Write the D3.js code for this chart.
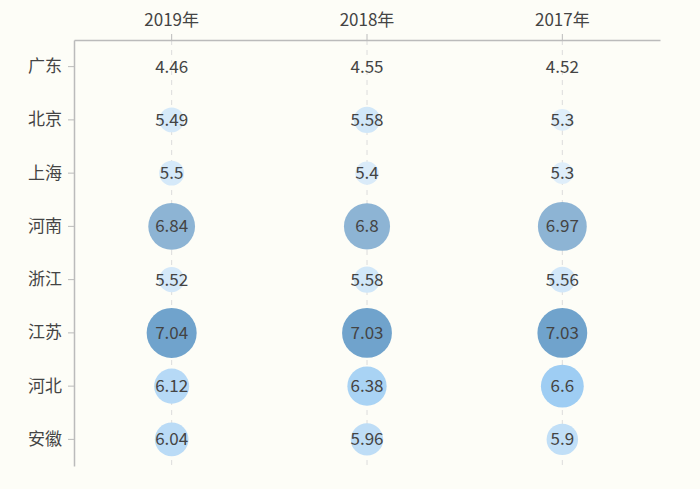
<!DOCTYPE html>
<html>
<head>
<meta charset="utf-8">
<script src="https://cdn.jsdelivr.net/npm/d3@7"></script>
<style>
  body { margin: 0; background: #fdfdf7; }
  text { font-family: "Noto Sans CJK SC", "Noto Sans", sans-serif; }
</style>
</head>
<body>
<div id="chart"></div>
<script>
const width = 700;
const height = 489;
const margin = { top: 40, left: 74, right: 40, bottom: 23 };

// data
const years = ["2019年", "2018年", "2017年"];
const provinces = ["广东", "北京", "上海", "河南", "浙江", "江苏", "河北", "安徽"];
const v2019 = [4.46, 5.49, 5.5, 6.84, 5.52, 7.04, 6.12, 6.04];
const v2018 = [4.55, 5.58, 5.4, 6.8, 5.58, 7.03, 6.38, 5.96];
const v2017 = [4.52, 5.3, 5.3, 6.97, 5.56, 7.03, 6.6, 5.9];

const series = [v2019, v2018, v2017];
const cells = [];
series.forEach((vals, i) => {
    vals.forEach((v, j) => cells.push({ year: years[i], prov: provinces[j], value: v }));
});

const svg = d3.select("#chart").append("svg").attr("width", width).attr("height", height);
svg.append("rect").attr("width", width).attr("height", height).attr("fill", "#fdfdf7");

const xScale = d3.scaleBand().domain(years).range([margin.left, width - margin.right]);
const yScale = d3.scaleBand().domain(provinces).range([margin.top, height - margin.bottom]);

const extent = d3.extent(cells, d => d.value);
const rScale = d3.scaleLinear().domain(extent).range([4, 25]);

// near-background up to light blue, then grey-blue bins
const lightColor = d3.scaleLinear().domain([4.5, 5.3, 6.6]).range(["#fdfdf7", "#dfeefa", "#9ecdf3"]).clamp(true);
const color = v => v >= 7 ? "#70a3cc" : v >= 6.7 ? "#8db4d4" : lightColor(v);

// dashed vertical guides
svg.append("g").selectAll("line").data(years).join("line")
    .attr("x1", d => xScale(d) + xScale.bandwidth() / 2)
    .attr("x2", d => xScale(d) + xScale.bandwidth() / 2)
    .attr("y1", margin.top)
    .attr("y2", height - margin.bottom)
    .attr("stroke", "#dcdcdc")
    .attr("stroke-dasharray", "5,5");

// axes
const xAxis = svg.append("g")
    .attr("transform", `translate(0,${margin.top})`)
    .call(d3.axisTop(xScale).tickSize(6).tickSizeOuter(0).tickPadding(8));
const yAxis = svg.append("g")
    .attr("transform", `translate(${margin.left},0)`)
    .call(d3.axisLeft(yScale).tickSize(6).tickSizeOuter(0).tickPadding(6));

[xAxis, yAxis].forEach(a => {
    a.select(".domain").attr("stroke", "#bbbbbb").attr("stroke-width", 1.5);
    a.selectAll(".tick line").attr("stroke", "#bbbbbb");
    a.selectAll(".tick text").attr("fill", "#444").attr("font-size", 17)
        .style("font-family", '"Noto Sans CJK SC", sans-serif');
});

// bubbles
const g = svg.append("g");
g.selectAll("circle").data(cells).join("circle")
    .attr("cx", d => xScale(d.year) + xScale.bandwidth() / 2)
    .attr("cy", d => yScale(d.prov) + yScale.bandwidth() / 2)
    .attr("r", d => rScale(d.value))
    .attr("fill", d => color(d.value));

g.selectAll("text").data(cells).join("text")
    .attr("x", d => xScale(d.year) + xScale.bandwidth() / 2)
    .attr("y", d => yScale(d.prov) + yScale.bandwidth() / 2)
    .attr("dy", "0.36em")
    .attr("text-anchor", "middle")
    .attr("font-size", 17)
    .attr("fill", "#444")
    .text(d => d.value);
</script>
</body>
</html>
